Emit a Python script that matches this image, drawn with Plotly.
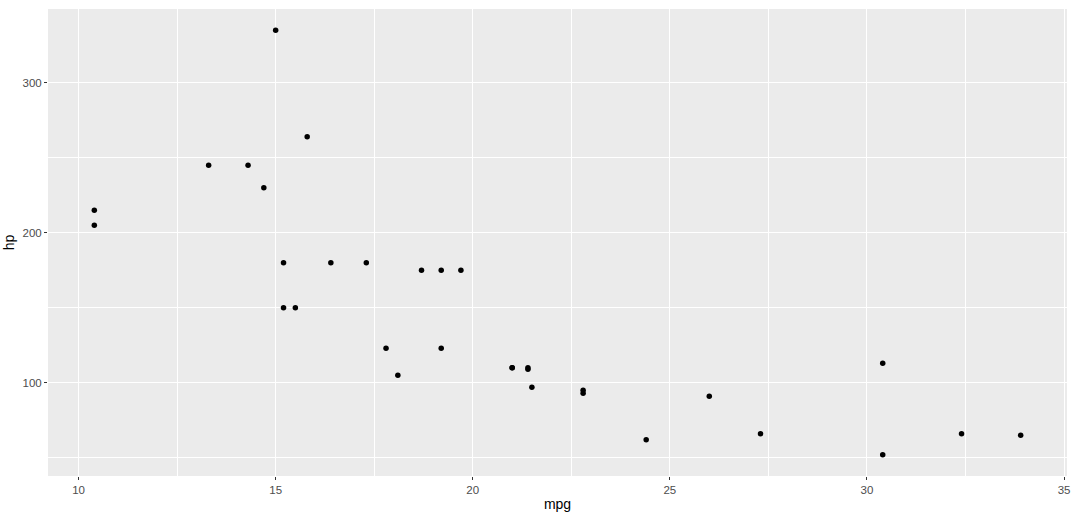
import plotly.graph_objects as go

mpg = [21.0, 21.0, 22.8, 21.4, 18.7, 18.1, 14.3, 24.4, 22.8, 19.2, 17.8, 16.4, 17.3, 15.2, 10.4, 10.4,
       14.7, 32.4, 30.4, 33.9, 21.5, 15.5, 15.2, 13.3, 19.2, 27.3, 26.0, 30.4, 15.8, 19.7, 15.0, 21.4]
hp = [110, 110, 93, 110, 175, 105, 245, 62, 95, 123, 123, 180, 180, 180, 205, 215,
      230, 66, 52, 65, 97, 150, 150, 245, 175, 66, 91, 113, 264, 175, 335, 109]

x_ticks = [10, 15, 20, 25, 30, 35]
y_ticks = [100, 200, 300]

fig = go.Figure(go.Scatter(x=mpg, y=hp, mode="markers",
                           marker=dict(color="black", size=5.5), hoverinfo="skip"))

xr = max(mpg) - min(mpg)
yr = max(hp) - min(hp)
font_family = "Arial, Liberation Sans, sans-serif"

fig.update_layout(
    width=1071, height=516,
    margin=dict(l=48, r=4, t=9, b=40),
    paper_bgcolor="white", plot_bgcolor="#EBEBEB",
    showlegend=False,
    font=dict(family=font_family),
)
fig.update_xaxes(
    automargin=False,
    range=[min(mpg) - 0.05 * xr, max(mpg) + 0.05 * xr],
    tickvals=x_ticks, ticktext=[str(t) for t in x_ticks],
    showgrid=True, gridcolor="white", gridwidth=1.1,
    minor=dict(showgrid=True, gridcolor="white", gridwidth=0.5, dtick=2.5, tick0=7.5),
    zeroline=False, showline=False,
    ticks="outside", ticklen=3, tickcolor="#333333", tickwidth=1,
    tickfont=dict(size=11.5, color="#4D4D4D"),
    title=dict(text="mpg", font=dict(size=14, color="black"), standoff=4),
)
fig.update_yaxes(
    automargin=False,
    range=[min(hp) - 0.05 * yr, max(hp) + 0.05 * yr],
    tickvals=y_ticks, ticktext=[str(t) for t in y_ticks],
    showgrid=True, gridcolor="white", gridwidth=1.1,
    minor=dict(showgrid=True, gridcolor="white", gridwidth=0.5, dtick=50, tick0=0),
    zeroline=False, showline=False,
    ticks="outside", ticklen=3, tickcolor="#333333", tickwidth=1,
    tickfont=dict(size=11.5, color="#4D4D4D"),
    title=dict(text="hp", font=dict(size=14, color="black"), standoff=4),
)

fig.write_html(
    "out.html",
    config={"displayModeBar": False},
    post_script="document.body.style.margin='0';document.body.style.padding='0';document.body.style.overflow='hidden';",
)
